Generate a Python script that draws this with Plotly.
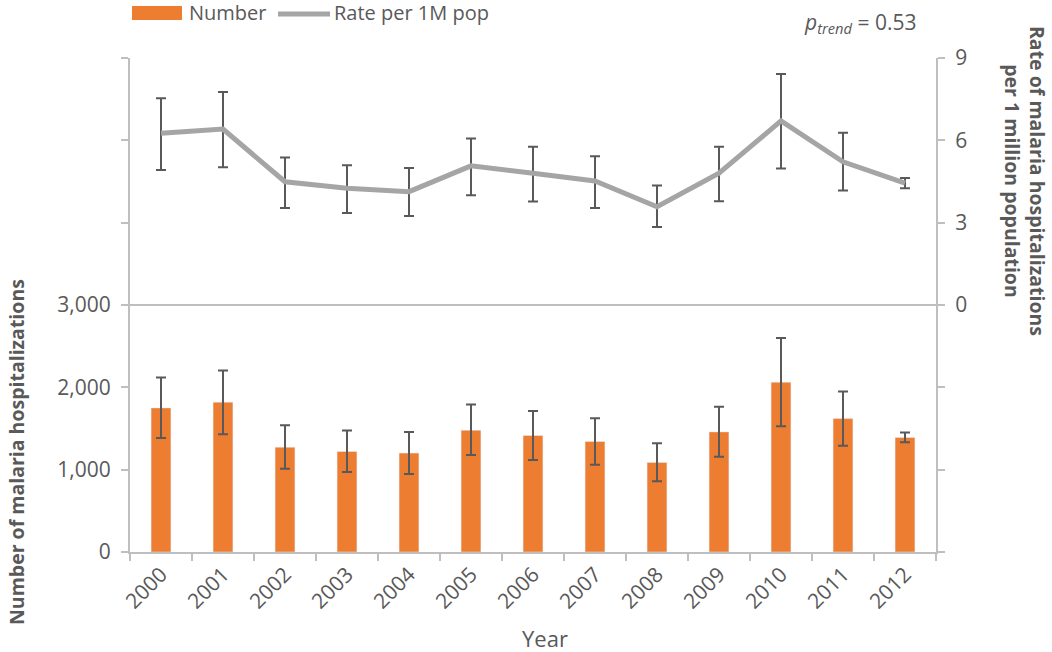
import plotly.graph_objects as go

years = ["2000", "2001", "2002", "2003", "2004", "2005", "2006",
         "2007", "2008", "2009", "2010", "2011", "2012"]
number = [1750, 1820, 1273, 1221, 1201, 1479, 1415, 1342, 1088, 1459, 2063, 1620, 1390]
number_hi = [2120, 2205, 1539, 1475, 1458, 1793, 1712, 1624, 1322, 1765, 2600, 1950, 1451]
number_lo = [1386, 1430, 1011, 971, 947, 1177, 1116, 1059, 858, 1156, 1527, 1289, 1334]
rate = [6.26, 6.41, 4.49, 4.25, 4.13, 5.07, 4.80, 4.52, 3.58, 4.80, 6.71, 5.22, 4.44]
rate_hi = [7.53, 7.76, 5.37, 5.09, 4.99, 6.07, 5.77, 5.42, 4.35, 5.77, 8.42, 6.28, 4.63]
rate_lo = [4.92, 5.02, 3.53, 3.35, 3.24, 4.00, 3.77, 3.53, 2.84, 3.78, 4.97, 4.17, 4.25]

left_ticks = [0, 1000, 2000, 3000]
left_text = ["0", "1,000", "2,000", "3,000"]
left_minor = [4000, 5000, 6000]
right_ticks = [0, 3, 6, 9]
right_text = ["0", "3", "6", "9"]
right_minor = [-9, -6, -3]

W, H = 1052, 652
L, R, T, B = 130, 936, 58, 552
FONT = "Open Sans"
GREY = "#595959"
AX = "#BFBFBF"
ORANGE = "#ED7D31"
LINEC = "#A5A5A5"


def px(x):
    return (x - L) / (R - L)


def py(y):
    return (B - y) / (B - T)


fig = go.Figure()
fig.add_trace(go.Bar(
    x=years, y=number, marker_color=ORANGE, width=0.32, name="Number",
    error_y=dict(type="data", symmetric=False,
                 array=[h - v for h, v in zip(number_hi, number)],
                 arrayminus=[v - l for v, l in zip(number, number_lo)],
                 color=GREY, thickness=2, width=5),
    showlegend=False))
fig.add_trace(go.Scatter(
    x=years, y=rate, yaxis="y2", mode="lines", name="Rate per 1M pop",
    line=dict(color=LINEC, width=5),
    error_y=dict(type="data", symmetric=False,
                 array=[h - v for h, v in zip(rate_hi, rate)],
                 arrayminus=[v - l for v, l in zip(rate, rate_lo)],
                 color=GREY, thickness=2, width=5),
    showlegend=False))

fig.update_layout(
    width=W, height=H,
    margin=dict(l=L, r=W - R, t=T, b=H - B),
    paper_bgcolor="white", plot_bgcolor="white",
    font=dict(family=FONT, color=GREY, size=20),
    showlegend=False,
    xaxis=dict(type="category", range=[-0.5, 12.5], tickson="boundaries",
               ticks="outside", ticklen=7, tickcolor=AX, tickwidth=2,
               showline=True, linecolor=AX, linewidth=2, showgrid=False,
               tickangle=-45, tickfont=dict(size=21, color=GREY)),
    yaxis=dict(range=[0, 6000], tickvals=left_ticks, ticktext=left_text,
               ticks="outside", ticklen=7, tickcolor=AX, tickwidth=2,
               minor=dict(tickvals=left_minor, ticks="outside", ticklen=7,
                          tickcolor=AX, tickwidth=2, showgrid=False),
               ticklabelstandoff=6,
               showline=True, linecolor=AX, linewidth=2, showgrid=False,
               zeroline=False, tickfont=dict(size=21, color=GREY)),
    yaxis2=dict(range=[-9, 9], tickvals=right_ticks, ticktext=right_text,
                overlaying="y", side="right",
                ticks="outside", ticklen=7, tickcolor=AX, tickwidth=2,
                minor=dict(tickvals=right_minor, ticks="outside", ticklen=7,
                           tickcolor=AX, tickwidth=2, showgrid=False),
                ticklabelstandoff=6,
                showline=True, linecolor=AX, linewidth=2, showgrid=False,
                zeroline=False, tickfont=dict(size=21, color=GREY)),
)

# rate-axis baseline (value 0 on the right axis)
fig.add_shape(type="line", xref="paper", yref="y2", x0=0, x1=1, y0=0, y1=0,
              line=dict(color=AX, width=2), layer="below")

# manual legend
fig.add_shape(type="rect", xref="paper", yref="paper",
              x0=px(132), x1=px(182), y0=py(20), y1=py(6),
              fillcolor=ORANGE, line=dict(width=0))
fig.add_shape(type="line", xref="paper", yref="paper",
              x0=px(278), x1=px(330), y0=py(14), y1=py(14),
              line=dict(color=LINEC, width=5))
fig.add_annotation(x=px(187), y=py(13), xref="paper", yref="paper",
                   text="Number", showarrow=False, xanchor="left",
                   yanchor="middle", font=dict(size=20, color=GREY))
fig.add_annotation(x=px(332), y=py(13), xref="paper", yref="paper",
                   text="Rate per 1M pop", showarrow=False, xanchor="left",
                   yanchor="middle", font=dict(size=20, color=GREY))

# p trend
fig.add_annotation(x=px(919), y=py(23), xref="paper", yref="paper",
                   text="<i>p</i><sub><i>trend</i></sub> = 0.53",
                   showarrow=False, xanchor="right", yanchor="middle",
                   font=dict(size=21, color=GREY))

# axis titles
fig.add_annotation(x=px(16), y=py(452), xref="paper", yref="paper",
                   text="<b>Number of malaria hospitalizations</b>",
                   textangle=-90, showarrow=False, xanchor="center",
                   yanchor="middle", font=dict(size=19.5, color=GREY))
fig.add_annotation(x=px(1025), y=py(181), xref="paper", yref="paper",
                   text="<b>Rate of malaria hospitalizations<br>per 1 million population</b>",
                   textangle=90, showarrow=False, xanchor="center",
                   yanchor="middle", font=dict(size=19.5, color=GREY))
fig.add_annotation(x=px(545), y=py(638), xref="paper", yref="paper",
                   text="Year", showarrow=False, xanchor="center",
                   yanchor="middle", font=dict(size=22, color=GREY))

fig.write_html("out.html", config={"displayModeBar": False},
               post_script="document.body.style.margin='0';")
